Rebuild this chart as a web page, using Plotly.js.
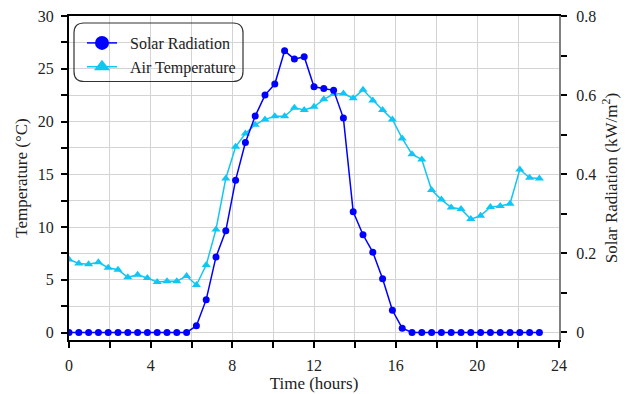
<!DOCTYPE html>
<html>
<head>
<meta charset="utf-8">
<script src="https://cdn.plot.ly/plotly-3.0.1.min.js"></script>
<style>html,body{margin:0;padding:0;background:#fff;}#chart{width:629px;height:394px;}</style>
</head>
<body>
<div id="chart"></div>
<script>
const hours = [0,0.48,0.96,1.44,1.92,2.4,2.88,3.36,3.84,4.32,4.8,5.28,5.76,6.24,6.72,7.2,7.68,8.16,8.64,9.12,9.6,10.08,10.56,11.04,11.52,12,12.48,12.96,13.44,13.92,14.4,14.88,15.36,15.84,16.32,16.8,17.28,17.76,18.24,18.72,19.2,19.68,20.16,20.64,21.12,21.6,22.08,22.56,23.04];
const airTemperature = [6.93,6.55,6.46,6.65,6.14,5.95,5.23,5.47,5.16,4.78,4.87,4.87,5.35,4.50,6.39,9.77,14.6,17.6,18.86,19.7,20.2,20.5,20.5,21.3,21.1,21.4,22.1,22.6,22.65,22.2,23.0,22.0,21.1,20.2,18.4,16.9,16.4,13.5,12.6,11.85,11.7,10.75,11.06,11.9,12.0,12.2,15.45,14.66,14.6];
const solarRadiation = [0,0,0,0,0,0,0,0,0,0,0,0,0,0.017,0.083,0.191,0.257,0.385,0.480,0.547,0.600,0.628,0.712,0.691,0.697,0.621,0.617,0.612,0.542,0.305,0.247,0.203,0.136,0.056,0.011,0,0,0,0,0,0,0,0,0,0,0,0,0,0];
const seriesNames = ["Solar Radiation", "Air Temperature"];
const xTitle = "Time (hours)";
const yTitle = "Temperature (\u00B0C)";
const y2Title = "Solar Radiation (kW/m<sup>2</sup>)";

const font = "Liberation Serif, Times New Roman, serif";
const nb = "\u00A0\u00A0";
const solarColor = "#0000ff", tempColor = "#12c6f4";

const traces = [
  {x: hours, y: solarRadiation, yaxis: "y2", name: seriesNames[0], type: "scatter", mode: "lines+markers", showlegend: false,
   line: {color: solarColor, width: 1.5}, marker: {symbol: "circle", size: 7, color: solarColor}},
  {x: hours, y: airTemperature, yaxis: "y", name: seriesNames[1], type: "scatter", mode: "lines+markers", showlegend: false,
   line: {color: tempColor, width: 1.5}, marker: {symbol: "triangle-up", size: 8, color: tempColor}},
  // legend entries (no data points drawn)
  {x: [null], y: [null], yaxis: "y2", name: nb + seriesNames[0], type: "scatter", mode: "lines+markers",
   line: {color: solarColor, width: 1.5}, marker: {symbol: "circle", size: 14, color: solarColor}},
  {x: [null], y: [null], yaxis: "y", name: nb + seriesNames[1], type: "scatter", mode: "lines+markers",
   line: {color: tempColor, width: 1.5}, marker: {symbol: "triangle-up", size: 14, color: tempColor}}
];

const W = 490, H = 324, L = 69, T = 16;
function px(x){return (x - L)/W;}
function py(y){return (T + H - y)/H;}
const bx0 = px(74), bx1 = px(243), by0 = py(81.5), by1 = py(23);
const rx = 10/W, ry = 10/H;
const boxPath = `M${bx0+rx},${by1} L${bx1-rx},${by1} Q${bx1},${by1} ${bx1},${by1-ry} L${bx1},${by0+ry} Q${bx1},${by0} ${bx1-rx},${by0} L${bx0+rx},${by0} Q${bx0},${by0} ${bx0},${by0+ry} L${bx0},${by1-ry} Q${bx0},${by1} ${bx0+rx},${by1} Z`;

const tickFont = {family: font, size: 16, color: "#222"};
const titleFont = {family: font, size: 17, color: "#222"};

const layout = {
  width: 629, height: 394,
  margin: {l: L, r: 629 - L - W, t: T, b: 394 - T - H},
  paper_bgcolor: "#fff", plot_bgcolor: "#fff",
  font: {family: font, size: 16, color: "#222"},
  showlegend: true,
  legend: {x: px(82), y: py(26), xanchor: "left", yanchor: "top", bgcolor: "rgba(0,0,0,0)", borderwidth: 0,
           font: {family: font, size: 16, color: "#222"}, itemwidth: 30, tracegroupgap: 0},
  xaxis: {range: [0, 24], dtick: 4, tick0: 0, showline: true, linecolor: "#000", linewidth: 2, mirror: true,
          ticks: "outside", ticklen: 6, tickwidth: 2, tickcolor: "#000", showgrid: true, gridcolor: "#d4d4d4", gridwidth: 1,
          minor: {dtick: 2, ticks: "outside", ticklen: 6, tickwidth: 2, tickcolor: "#000", showgrid: true, gridcolor: "#d4d4d4", gridwidth: 1},
          zeroline: false, tickfont: tickFont, ticklabelstandoff: 4,
          title: {text: xTitle, font: titleFont, standoff: 3}},
  yaxis: {range: [-0.71, 30], dtick: 5, tick0: 0, showline: true, linecolor: "#000", linewidth: 2,
          ticks: "outside", ticklen: 6, tickwidth: 2, tickcolor: "#000", showgrid: true, gridcolor: "#d4d4d4", gridwidth: 1,
          minor: {dtick: 2.5, ticks: "outside", ticklen: 6, tickwidth: 2, tickcolor: "#000", showgrid: true, gridcolor: "#d4d4d4", gridwidth: 1},
          zeroline: false, tickfont: tickFont, ticklabelstandoff: 4,
          title: {text: yTitle, font: titleFont, standoff: 6}},
  yaxis2: {range: [-0.019, 0.8], dtick: 0.2, tick0: 0, overlaying: "y", side: "right", showline: true, linecolor: "#808080", linewidth: 2,
          ticks: "outside", ticklen: 6, tickwidth: 2, tickcolor: "#000", showgrid: false,
          minor: {dtick: 0.1, ticks: "outside", ticklen: 6, tickwidth: 2, tickcolor: "#000", showgrid: false},
          zeroline: false, tickfont: tickFont, ticklabelstandoff: 6,
          title: {text: y2Title, font: titleFont, standoff: 10}},
  shapes: [{type: "path", xref: "paper", yref: "paper", path: boxPath, line: {color: "#333", width: 1.2}, fillcolor: "rgba(0,0,0,0)", layer: "above"}]
};

Plotly.newPlot("chart", traces, layout, {displayModeBar: false, staticPlot: true});
</script>
</body>
</html>
